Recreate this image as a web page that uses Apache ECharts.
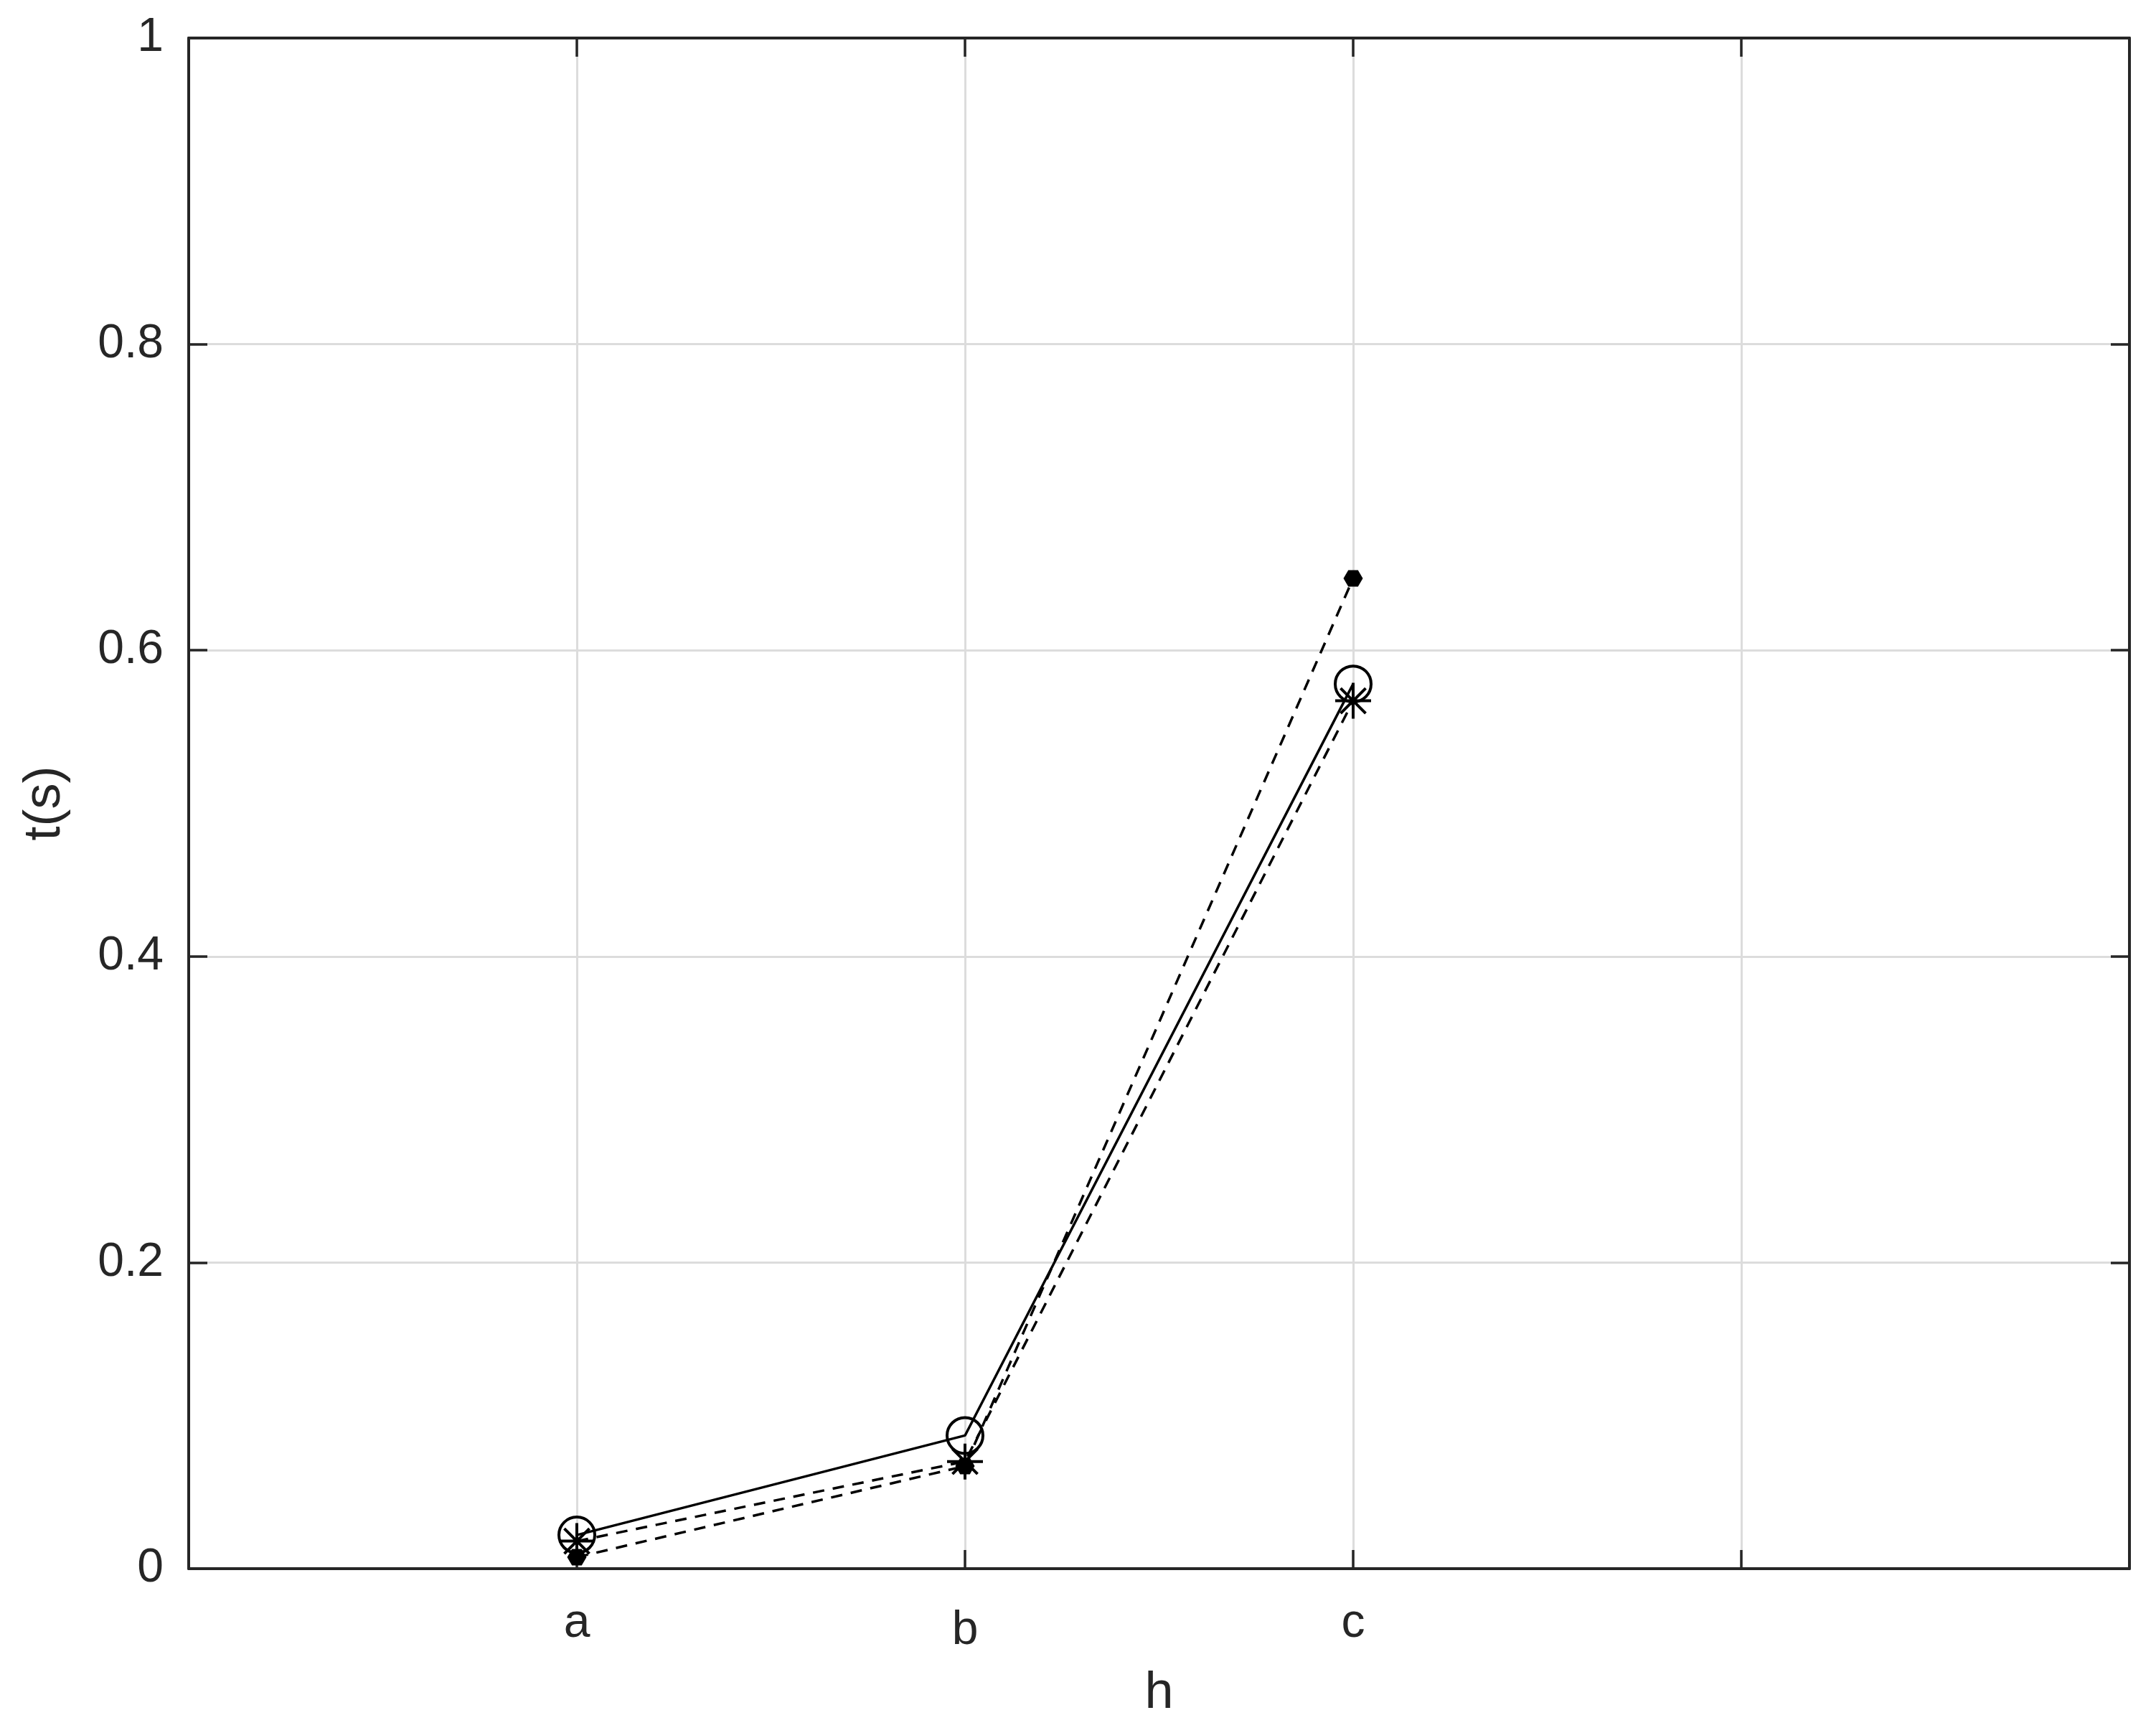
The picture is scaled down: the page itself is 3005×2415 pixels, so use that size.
<!DOCTYPE html>
<html>
<head>
<meta charset="utf-8">
<script src="https://cdn.jsdelivr.net/npm/echarts@6/dist/echarts.min.js"></script>
<style>
html,body{margin:0;padding:0;background:#fff;}
#chart{width:3005px;height:2415px;}
</style>
</head>
<body>
<div id="chart"></div>
<script>
// ---- data ----
var categories = ['a', 'b', 'c'];
var xPositions = [1, 2, 3];
var tickLabels = {0: '', 1: 'a', 2: 'b', 3: 'c', 4: '', 5: ''};
var seriesCircle = [0.022, 0.087, 0.578];
var seriesStar = [0.018, 0.070, 0.567];
var seriesDot = [0.0075, 0.067, 0.647];

function pairs(vals) {
  return vals.map(function (v, i) { return [xPositions[i], v]; });
}

var TXT = '#262626';
var FONT = "'Liberation Sans', Arial, Helvetica, sans-serif";
var starPath = 'path://M0,0 L0,100 M-50,50 L50,50 M-35,15 L35,85 M-35,85 L35,15';
var hexPath = 'path://M-1,0 L-0.5,-0.866 L0.5,-0.866 L1,0 L0.5,0.866 L-0.5,0.866 Z';

var chart = echarts.init(document.getElementById('chart'), null, {renderer: 'canvas'});
var axisLine = {show: true, onZero: false, lineStyle: {color: TXT, width: 4}};
var tick = {show: true, inside: true, length: 26, lineStyle: {color: TXT, width: 3.5}};
var grid = {show: true, lineStyle: {color: '#dcdcdc', width: 3}};

chart.setOption({
  animation: false,
  backgroundColor: '#fff',
  textStyle: {fontFamily: FONT},
  grid: {left: 263, top: 53, right: 37, bottom: 229, containLabel: false},
  xAxis: [{
    type: 'value', min: 0, max: 5, interval: 1, position: 'bottom',
    name: 'h', nameLocation: 'middle', nameGap: 138,
    nameTextStyle: {fontSize: 72, color: TXT, fontFamily: FONT},
    axisLine: axisLine, axisTick: tick, splitLine: grid,
    axisLabel: {show: true, margin: 44, fontSize: 66, color: TXT, fontFamily: FONT,
      showMinLabel: true, showMaxLabel: true,
      rich: {asc: {fontSize: 66, color: TXT, fontFamily: FONT, padding: [10, 0, 0, 0]}},
      formatter: function (v) {
        var t = tickLabels[v] !== undefined ? tickLabels[v] : '';
        return /[bdfhklt]/.test(t) ? '{asc|' + t + '}' : t;
      }}
  }, {
    type: 'value', min: 0, max: 5, interval: 1, position: 'top',
    axisLine: axisLine, axisTick: tick, splitLine: {show: false}, axisLabel: {show: false}
  }],
  yAxis: [{
    type: 'value', min: 0, max: 1, interval: 0.2, position: 'left',
    name: 't(s)', nameLocation: 'middle', nameGap: 164,
    nameTextStyle: {fontSize: 72, color: TXT, fontFamily: FONT},
    axisLine: axisLine, axisTick: tick, splitLine: grid,
    axisLabel: {show: true, margin: 35, fontSize: 66, color: TXT, fontFamily: FONT}
  }, {
    type: 'value', min: 0, max: 1, interval: 0.2, position: 'right',
    axisLine: axisLine, axisTick: tick, splitLine: {show: false}, axisLabel: {show: false}
  }],
  series: [{
    name: 'dot', type: 'line', data: pairs(seriesDot),
    symbol: hexPath, symbolSize: [27, 23],
    lineStyle: {color: '#000', width: 3.5, type: [16, 12]},
    itemStyle: {color: '#000', borderWidth: 0},
    emphasis: {disabled: true}, z: 3
  }, {
    name: 'star', type: 'line', data: pairs(seriesStar),
    symbol: starPath, symbolSize: 50,
    lineStyle: {color: '#000', width: 3.5, type: [16, 12]},
    itemStyle: {color: '#000', borderColor: '#000', borderWidth: 4},
    emphasis: {disabled: true}, z: 4
  }, {
    name: 'circle', type: 'line', data: pairs(seriesCircle),
    symbol: 'circle', symbolSize: 50,
    lineStyle: {color: '#000', width: 3.5, type: 'solid'},
    itemStyle: {color: 'rgba(0,0,0,0)', borderColor: '#000', borderWidth: 4},
    emphasis: {disabled: true}, z: 5
  }]
});
</script>
</body>
</html>
